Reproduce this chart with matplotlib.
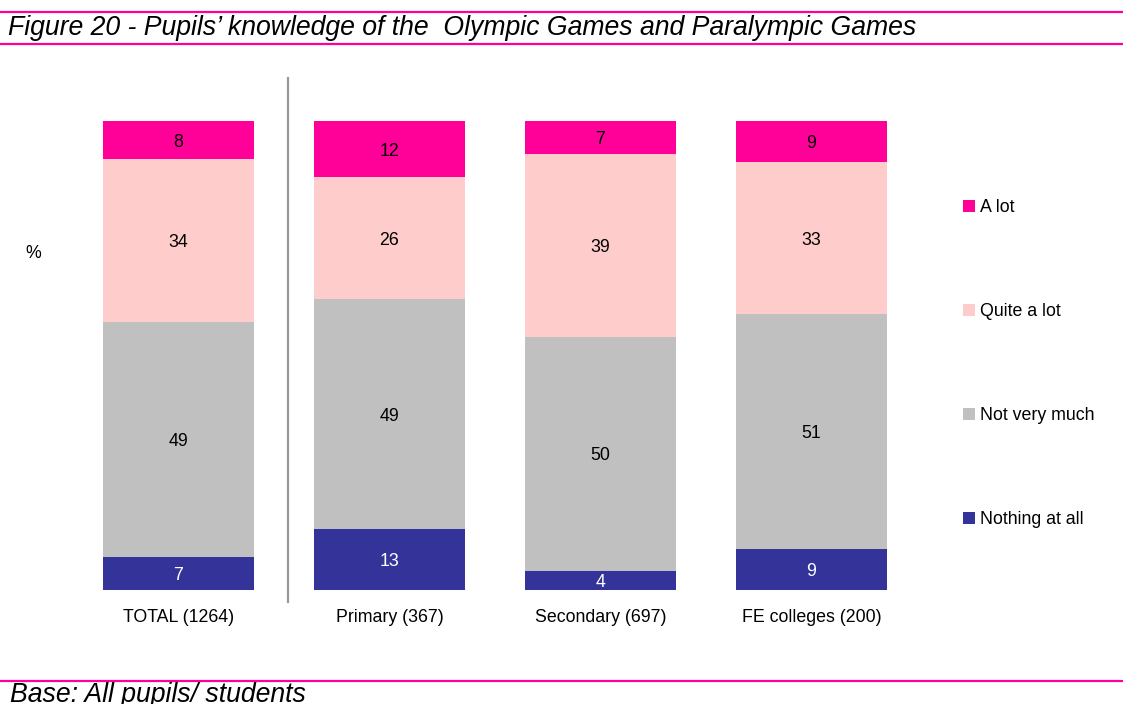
import matplotlib.pyplot as plt
import numpy as np
from matplotlib.lines import Line2D
from matplotlib.patches import Patch

plt.rcParams['font.family'] = ['Liberation Sans', 'DejaVu Sans']

# data
groups = ["TOTAL (1264)", "Primary (367)", "Secondary (697)", "FE colleges (200)"]
levels = ["Nothing at all", "Not very much", "Quite a lot", "A lot"]
nothing = [7, 13, 4, 9]
not_much = [49, 49, 50, 51]
quite = [34, 26, 39, 33]
a_lot = [8, 12, 7, 9]

colors = ["#333399", "#C0C0C0", "#FFCCCC", "#FF0099"]
text_colors = ["white", "black", "black", "black"]
pink = "#FF0099"
fs = 12.8


def draw():
    fig = plt.figure(figsize=(11.23, 7.04), dpi=100)
    # axes placed so 0..100 maps onto the bar span
    ax = fig.add_axes([50 / 1123, 114 / 704, 890 / 1123, 469 / 704])

    series = np.array([nothing, not_much, quite, a_lot], dtype=float)
    totals = series.sum(axis=0)
    shares = series / totals * 100  # 100% stacked like the original
    x = np.arange(len(groups))

    bottom = np.zeros(len(groups))
    for i in range(len(levels)):
        ax.bar(x, shares[i], 0.72, bottom=bottom, color=colors[i], label=levels[i])
        for j in range(len(groups)):
            ax.text(x[j], bottom[j] + shares[i][j] / 2 - 0.4, str(int(series[i][j])),
                    ha='center', va='center', fontsize=fs, color=text_colors[i])
        bottom += shares[i]

    ax.set_xlim(-128.5 / 211, 3 + 128.5 / 211)
    ax.set_ylim(0, 100)
    ax.set_xticks(x)
    ax.set_xticklabels(groups, fontsize=fs)
    ax.tick_params(axis='x', length=0, pad=14)
    ax.set_yticks([])
    for s in ax.spines.values():
        s.set_visible(False)

    # separator between total and the sub groups
    ax.plot([0.52, 0.52], [-2.5, 109.2], color="#999999", lw=1.6, clip_on=False)

    handles = [Patch(facecolor=colors[i]) for i in range(3, -1, -1)]
    fig.legend(handles, levels[::-1], loc='upper left', bbox_to_anchor=(954 / 1123, 1 - 190 / 704),
               frameon=False, fontsize=fs, handlelength=0.68, handleheight=0.68,
               handletextpad=0.3, labelspacing=4.9, borderpad=0)

    fig.text(25 / 1123, 1 - 254 / 704, "%", fontsize=fs, va='center')

    # header / footer rules
    for yp in [12, 44, 681]:
        fig.add_artist(Line2D([0, 1], [1 - yp / 704, 1 - yp / 704], color=pink, lw=1.6))
    fig.text(8 / 1123, 1 - 28 / 704, "Figure 20 - Pupils\u2019 knowledge of the  Olympic Games and Paralympic Games",
             fontsize=19.2, style='italic', va='center')
    fig.text(10 / 1123, 1 - 695 / 704, "Base: All pupils/ students", fontsize=19.2, style='italic', va='center')

    fig.savefig("out.png", dpi=100)


if __name__ == '__main__':
    draw()
